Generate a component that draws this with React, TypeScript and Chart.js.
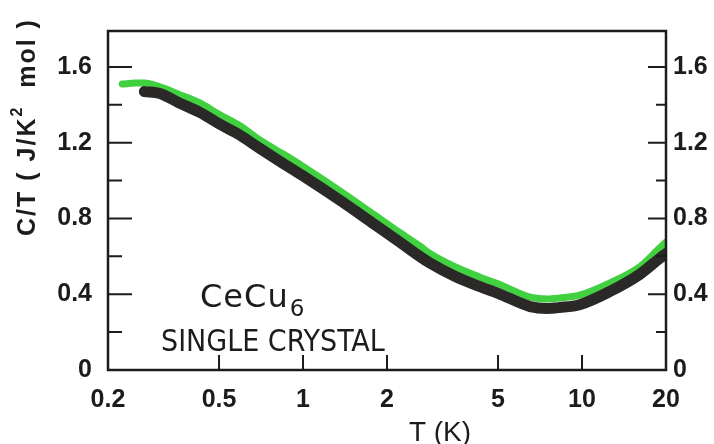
import React, { useEffect, useRef } from 'react';
import { Chart, registerables } from 'chart.js';

Chart.register(...registerables);

// Temperature (K) and C/T (J/K^2 mol)
const blackT = [0.27, 0.307, 0.36, 0.427, 0.5, 0.594, 0.7, 0.85, 1.0, 1.36, 1.8, 2.2, 2.62, 2.85, 3.5, 4.31, 5.0, 6.52, 7.48, 8.3, 9.8, 12.6, 16.1, 19, 20];
const blackCT = [1.47, 1.46, 1.41, 1.36, 1.3, 1.24, 1.17, 1.09, 1.025, 0.895, 0.77, 0.68, 0.6, 0.565, 0.495, 0.44, 0.405, 0.335, 0.325, 0.33, 0.345, 0.415, 0.505, 0.59, 0.615];

const greenT = [0.225, 0.25, 0.27, 0.307, 0.36, 0.427, 0.5, 0.594, 0.7, 0.85, 1.0, 1.36, 1.8, 2.2, 2.62, 2.85, 3.5, 4.31, 5.0, 6.52, 7.48, 8.3, 9.8, 12.6, 16.1, 19, 20];
const greenCT = [1.51, 1.515, 1.515, 1.495, 1.455, 1.41, 1.35, 1.29, 1.215, 1.14, 1.075, 0.945, 0.82, 0.73, 0.655, 0.615, 0.545, 0.49, 0.455, 0.385, 0.375, 0.38, 0.395, 0.46, 0.545, 0.645, 0.675];

const xTickValues = [0.2, 0.5, 1, 2, 5, 10, 20];
const xTickLabels = ['0.2', '0.5', '1', '2', '5', '10', '20'];
const yTickValues = [0, 0.2, 0.4, 0.6, 0.8, 1.0, 1.2, 1.4, 1.6];
const yLabelValues = [0, 0.4, 0.8, 1.2, 1.6];
const yTitleMain = 'C/T ( J/K';
const yTitleSup = '2';
const yTitleEnd = '  mol )';
const xTitle = 'T (K)';
const compoundName = 'CeCu';
const compoundSub = '6';
const sampleLabel = 'SINGLE CRYSTAL';

const FONT = "'Liberation Sans', Arial, sans-serif";
const FONT_WIDE = "'DejaVu Sans', sans-serif";
const FONT_COND = "'DejaVu Sans Condensed', 'DejaVu Sans', sans-serif";
const INK = '#1c1c1c';

const fmtY = (v: number) => (v === 0 ? '0' : v.toFixed(1));

export default function App() {
  const ref = useRef<HTMLCanvasElement | null>(null);

  useEffect(() => {
    if (!ref.current) return;

    const decor = {
      id: 'decor',
      afterDraw(chart: any) {
        const ctx = chart.ctx;
        const xs = chart.scales.x;
        const ys = chart.scales.y;
        const { left, right, top, bottom } = chart.chartArea;
        ctx.save();
        ctx.strokeStyle = INK;
        ctx.lineWidth = 2.5;
        ctx.strokeRect(left, top, right - left, bottom - top);
        ctx.lineWidth = 2;
        ctx.beginPath();
        for (const v of yTickValues) {
          if (v === 0) continue;
          const py = ys.getPixelForValue(v);
          const major = yLabelValues.includes(v);
          ctx.moveTo(left, py);
          ctx.lineTo(left + (major ? 24 : 14), py);
          ctx.moveTo(right, py);
          ctx.lineTo(right - (major ? 18 : 10), py);
        }
        for (const v of xTickValues) {
          if (v <= 0.2 || v >= 20) continue;
          const px = xs.getPixelForValue(v);
          ctx.moveTo(px, bottom);
          ctx.lineTo(px, bottom - 15);
        }
        ctx.stroke();

        ctx.fillStyle = INK;
        // y title
        ctx.save();
        ctx.translate(28, 127);
        ctx.rotate(-Math.PI / 2);
        (ctx as any).letterSpacing = '2px';
        ctx.textBaseline = 'middle';
        ctx.textAlign = 'left';
        const big = `bold 25px ${FONT}`;
        const small = `bold 16px ${FONT}`;
        ctx.font = big;
        const w1 = ctx.measureText(yTitleMain).width;
        ctx.font = small;
        const w2 = ctx.measureText(yTitleSup).width;
        ctx.font = big;
        const w3 = ctx.measureText(yTitleEnd).width;
        let sx = -(w1 + w2 + w3) / 2;
        ctx.fillText(yTitleMain, sx, 0);
        sx += w1;
        ctx.font = small;
        ctx.fillText(yTitleSup, sx, -10);
        sx += w2;
        ctx.font = big;
        ctx.fillText(yTitleEnd, sx, 0);
        ctx.restore();

        // x title
        ctx.font = `28px ${FONT}`;
        ctx.textAlign = 'center';
        ctx.textBaseline = 'alphabetic';
        ctx.fillText(xTitle, 440, 441);

        // annotations
        ctx.textAlign = 'left';
        ctx.save();
        (ctx as any).letterSpacing = '1px';
        ctx.font = `32px ${FONT_WIDE}`;
        ctx.fillText(compoundName, 200, 307);
        const cw = ctx.measureText(compoundName).width;
        ctx.restore();
        ctx.font = `23px ${FONT_WIDE}`;
        ctx.fillText(compoundSub, 200 + cw + 1, 316);
        ctx.font = `30px ${FONT_COND}`;
        ctx.fillText(sampleLabel, 161, 351);
        ctx.restore();
      },
    };

    const tickFont = { family: FONT, size: 25, weight: 'bold' as const };

    const chart = new Chart(ref.current, {
      type: 'line',
      data: {
        datasets: [
          {
            label: 'black',
            data: blackT.map((t, i) => ({ x: t, y: blackCT[i] })),
            borderColor: '#2b2828',
            borderWidth: 11,
            borderCapStyle: 'round',
            pointRadius: 0,
            cubicInterpolationMode: 'monotone',
            fill: false,
          },
          {
            label: 'green',
            data: greenT.map((t, i) => ({ x: t, y: greenCT[i] })),
            borderColor: '#40d040',
            borderWidth: 7,
            borderCapStyle: 'round',
            pointRadius: 0,
            cubicInterpolationMode: 'monotone',
            fill: false,
          },
        ],
      },
      options: {
        responsive: false,
        animation: false,
        layout: { padding: { top: 12, left: 0, right: 0, bottom: 0 } },
        plugins: { legend: { display: false }, tooltip: { enabled: false } },
        scales: {
          x: {
            type: 'logarithmic',
            min: 0.2,
            max: 20,
            grid: { display: false, drawTicks: false },
            border: { display: false },
            afterBuildTicks: (s: any) => {
              s.ticks = xTickValues.map((v) => ({ value: v }));
            },
            afterFit: (s: any) => {
              s.height = 74;
            },
            ticks: {
              autoSkip: false,
              maxRotation: 0,
              padding: 15,
              color: INK,
              font: tickFont,
              callback: (v: any) => {
                const i = xTickValues.indexOf(Number(v));
                return i >= 0 ? xTickLabels[i] : '';
              },
            },
          },
          y: {
            position: 'left',
            min: 0,
            max: 1.79,
            grid: { display: false, drawTicks: false },
            border: { display: false },
            afterBuildTicks: (s: any) => {
              s.ticks = yTickValues.map((v) => ({ value: v }));
            },
            afterFit: (s: any) => {
              s.width = 108;
            },
            ticks: {
              padding: 16,
              color: INK,
              font: tickFont,
              callback: (v: any) => (yLabelValues.includes(Number(v)) ? fmtY(Number(v)) : ''),
            },
          },
          y2: {
            position: 'right',
            min: 0,
            max: 1.79,
            grid: { display: false, drawTicks: false },
            border: { display: false },
            afterBuildTicks: (s: any) => {
              s.ticks = yTickValues.map((v) => ({ value: v }));
            },
            afterFit: (s: any) => {
              s.width = 48;
            },
            ticks: {
              padding: 7,
              color: INK,
              font: tickFont,
              callback: (v: any) => (yLabelValues.includes(Number(v)) ? fmtY(Number(v)) : ''),
            },
          },
        },
      },
      plugins: [decor],
    } as any);

    return () => chart.destroy();
  }, []);

  return (
    <div style={{ position: 'absolute', left: 0, top: 0, width: 714, height: 444, background: '#fff' }}>
      <canvas ref={ref} width={714} height={444} style={{ display: 'block', width: 714, height: 444 }} />
    </div>
  );
}
